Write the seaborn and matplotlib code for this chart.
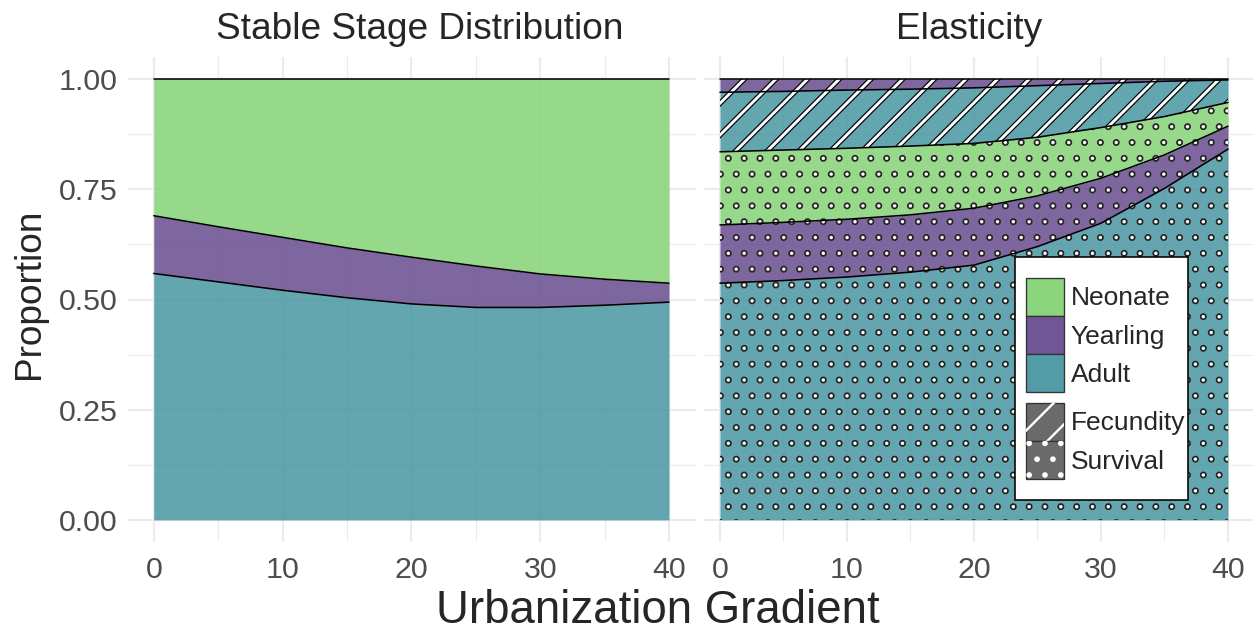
import numpy as np
import pandas as pd
import matplotlib
matplotlib.use('Agg')
import matplotlib.pyplot as plt
from matplotlib.patches import Patch, Rectangle
from matplotlib.legend_handler import HandlerTuple
import seaborn as sns

# urbanization gradient positions
urbanization = [0, 5, 10, 15, 20, 25, 30, 35, 40]

# stable stage distribution (proportions per stage)
ssd_adult = [0.559, 0.540, 0.521, 0.504, 0.490, 0.482, 0.482, 0.487, 0.494]
ssd_yearling = [0.131, 0.125, 0.120, 0.113, 0.106, 0.094, 0.076, 0.059, 0.043]
ssd_neonate = [0.310, 0.335, 0.359, 0.383, 0.404, 0.424, 0.442, 0.454, 0.463]

# elasticity by stage and vital rate
elas_adult_surv = [0.537, 0.543, 0.551, 0.562, 0.578, 0.620, 0.673, 0.752, 0.841]
elas_yearling_surv = [0.132, 0.132, 0.131, 0.130, 0.129, 0.115, 0.102, 0.076, 0.052]
elas_neonate_surv = [0.166, 0.164, 0.161, 0.156, 0.147, 0.133, 0.115, 0.087, 0.054]
elas_adult_fec = [0.135, 0.133, 0.132, 0.129, 0.126, 0.117, 0.100, 0.080, 0.051]
elas_yearling_fec = [0.030, 0.028, 0.025, 0.023, 0.020, 0.015, 0.010, 0.005, 0.002]

stages = ['Neonate', 'Yearling', 'Adult']
rates = ['Fecundity', 'Survival']
stage_colors = {'Neonate': '#8bd57d', 'Yearling': '#705695', 'Adult': '#529ca7'}
patterns = {'Fecundity': '//', 'Survival': '..'}
# hatch widths: dark outline first, white core on top
hatch_widths = {'Fecundity': [('black', 2.0), ('white', 1.1)],
                'Survival': [('#222222', 1.4), ('white', 0.1)]}

W, H, DPI = 1255, 632, 190
sns.set_theme(style='whitegrid')
plt.rcParams['font.family'] = ['Liberation Sans', 'DejaVu Sans']


def set_hatch_width(artist, width):
    if hasattr(artist, 'set_hatch_linewidth'):
        artist.set_hatch_linewidth(width)


def hatched(ax, x, lo, hi, rate):
    # ggpattern-like texture: dark outline under a white core
    for color, width in hatch_widths[rate]:
        with plt.rc_context({'hatch.linewidth': width}):
            coll = ax.fill_between(x, lo, hi, facecolor='none', edgecolor=color,
                                   linewidth=0, hatch=patterns[rate], zorder=2)
        set_hatch_width(coll, width)


def style_axes(ax, show_y):
    ax.set_xlim(-2.0 if show_y else -1.26, 42.1 if show_y else 41.97)
    ax.set_ylim(-0.05, 1.05)
    ax.set_xticks([0, 10, 20, 30, 40])
    ax.set_xticks([5, 15, 25, 35], minor=True)
    ax.set_yticks([0, 0.25, 0.5, 0.75, 1.0])
    ax.set_yticks([0.125, 0.375, 0.625, 0.875], minor=True)
    ax.set_yticklabels(['0.00', '0.25', '0.50', '0.75', '1.00'] if show_y else [])
    ax.grid(which='major', color='#ebebeb', linewidth=0.8)
    ax.grid(which='minor', color='#ebebeb', linewidth=0.45)
    ax.set_axisbelow(True)
    ax.tick_params(which='both', length=0, labelsize=11.5, labelcolor='#4d4d4d')
    ax.tick_params(axis='x', pad=5.3)
    ax.tick_params(axis='y', pad=3.9)
    for s in ax.spines.values():
        s.set_visible(False)
    ax.set_xlabel('')
    ax.set_ylabel('')


def boundaries(ax, x, tops):
    rows = []
    for i, top in enumerate(tops):
        for xv, yv in zip(x, top):
            rows.append({'x': xv, 'y': yv, 'layer': i})
    df = pd.DataFrame(rows)
    sns.lineplot(data=df, x='x', y='y', units='layer', estimator=None, color='black',
                 linewidth=0.6, ax=ax, zorder=3)


fig = plt.figure(figsize=(W / DPI, H / DPI), dpi=DPI)
ax1 = fig.add_axes([128 / W, 1 - 542 / H, (696 - 128) / W, 485 / H])
ax2 = fig.add_axes([704 / W, 1 - 542 / H, (1253 - 704) / W, 485 / H])

x = np.array(urbanization)

# left panel: stable stage distribution
lo = np.zeros(len(x))
tops = []
for name, vals in [('Adult', ssd_adult), ('Yearling', ssd_yearling), ('Neonate', ssd_neonate)]:
    hi = lo + np.array(vals)
    ax1.fill_between(x, lo, hi, facecolor=stage_colors[name], alpha=0.9, linewidth=0, zorder=1)
    tops.append(hi)
    lo = hi
boundaries(ax1, x, tops)
style_axes(ax1, True)
ax1.set_title('Stable Stage Distribution', fontsize=14, pad=7, x=0.513)

# right panel: elasticity
layers = [('Adult', 'Survival', elas_adult_surv), ('Yearling', 'Survival', elas_yearling_surv),
          ('Neonate', 'Survival', elas_neonate_surv), ('Adult', 'Fecundity', elas_adult_fec),
          ('Yearling', 'Fecundity', elas_yearling_fec)]
lo = np.zeros(len(x))
tops = []
for stage, rate, vals in layers:
    hi = lo + np.array(vals)
    ax2.fill_between(x, lo, hi, facecolor=stage_colors[stage], alpha=0.9, linewidth=0, zorder=1)
    hatched(ax2, x, lo, hi, rate)
    tops.append(hi)
    lo = hi
boundaries(ax2, x, tops)
style_axes(ax2, False)
ax2.set_title('Elasticity', fontsize=14, pad=7, x=0.482)

fig.text(658 / W, 1 - 611 / H, 'Urbanization Gradient', ha='center', va='center', fontsize=17.3)
fig.text(30 / W, 1 - 294 / H, 'Proportion', ha='center', va='center', rotation=90, fontsize=14)

# legend frame
ax2.add_patch(Rectangle((1015 / W, 1 - 500 / H), 173 / W, 243 / H, transform=fig.transFigure,
                        facecolor='white', edgecolor='black', linewidth=0.6, zorder=4.5,
                        clip_on=False))

stage_handles = [Patch(facecolor=stage_colors[s], edgecolor='#333333', linewidth=0.5) for s in stages]
rate_handles = []
for r in rates:
    parts = [Patch(facecolor='#6a6a6a', edgecolor='#333333', linewidth=0.5)]
    for color, width in hatch_widths[r]:
        with plt.rc_context({'hatch.linewidth': width}):
            p = Patch(facecolor='none', edgecolor=color, linewidth=0, hatch=patterns[r])
        set_hatch_width(p, width)
        parts.append(p)
    rate_handles.append(tuple(parts))

leg_kw = dict(loc='upper left', bbox_transform=fig.transFigure, frameon=False, borderpad=0,
              borderaxespad=0, labelspacing=0, handlelength=1.44, handleheight=1.84,
              handletextpad=0.25, fontsize=10)
leg1 = ax2.legend(stage_handles, stages, bbox_to_anchor=(1026 / W, 1 - 278 / H), **leg_kw)
leg1.set_zorder(6)
ax2.add_artist(leg1)
leg2 = ax2.legend(rate_handles, rates, bbox_to_anchor=(1026 / W, 1 - 403 / H),
                  handler_map={tuple: HandlerTuple(ndivide=1, pad=0)}, **leg_kw)
leg2.set_zorder(6)

fig.savefig('out.png', dpi=DPI)
